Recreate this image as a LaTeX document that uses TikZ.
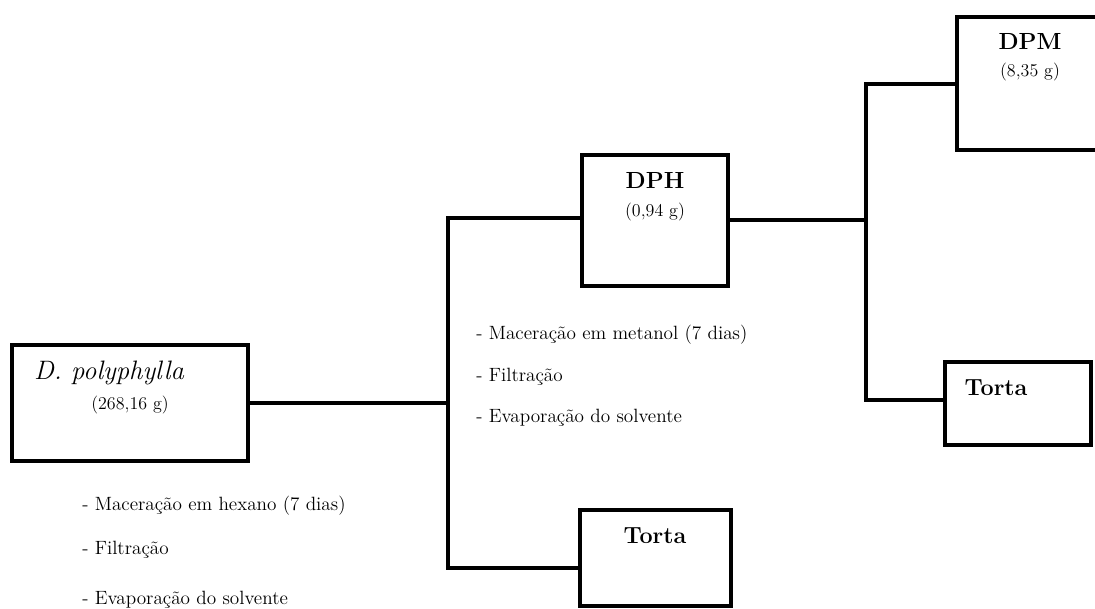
\documentclass[tikz,border=0pt]{standalone}
\usepackage{tikz}
\usetikzlibrary{calc}
\tikzset{
box/.style={draw=black, line width=3.6pt, inner sep=0pt},
link/.style={line width=3pt},
title/.style={font=\fontsize{17.5}{19}\selectfont\bfseries},
mass/.style={font=\fontsize{13.5}{15}\selectfont},
proc/.style={anchor=west, inner sep=0pt, font=\fontsize{14.4}{16}\selectfont}}

\begin{document}
\begin{tikzpicture}[x=0.75pt,y=-0.75pt]
            \useasboundingbox (0,0) rectangle (1095,609);
            \clip (0,0) rectangle (1095,609);

                \node[box, minimum width=177pt, minimum height=87pt] (DP) at (130,403) {};
                \node[box, minimum width=109.5pt, minimum height=98.25pt] (DPH) at (655,220.5) {};
                \node[box, minimum width=113.25pt, minimum height=72pt] (T1) at (655.5,558) {};
                \node[box, minimum width=111pt, minimum height=99.75pt] (DPM) at (1031,83.5) {};
                \node[box, minimum width=109.5pt, minimum height=62.25pt] (T2) at (1018,403.5) {};

                \coordinate (b1) at (448,218);
                \coordinate (b2) at (448,568);
                \coordinate (c1) at (866,84);
                \coordinate (c2) at (866,400);

                \draw[link] (DP.east) -- (DP.east -| b1);
                \draw[link] (b1 -| DPH.west) -- (b1) -- (b2) -- (b2 -| T1.west);
                \draw[link] (DPH.east) -- (DPH.east -| c1);
                \draw[link] (c1 -| DPM.west) -- (c1) -- (c2) -- (c2 -| T2.west);

                \node[font=\fontsize{20}{22}\selectfont\itshape] (DPt) at (109,373) {D. polyphylla};
                \node[mass] (DPm) at (130,405) {(268,16 g)};
                \node[title] (DPHt) at (655,180) {DPH};
                \node[mass] (DPHm) at (655,212) {(0,94 g)};
                \node[title] (DPMt) at (1030,42) {DPM};
                \node[mass] (DPMm) at (1030,72) {(8,35 g)};
                \node[title] (T1t) at (655,536) {Torta};
                \node[title] (T2t) at (996,388) {Torta};

                \node[proc] (h1) at (82,506) {- Maceração em hexano (7 dias)};
                \node[proc] (h2) at (82,550) {- Filtração};
                \node[proc] (h3) at (82,600) {- Evaporação do solvente};
                \node[proc] (m1) at (476,335) {- Maceração em metanol (7 dias)};
                \node[proc] (m2) at (476,377) {- Filtração};
                \node[proc] (m3) at (476,418) {- Evaporação do solvente};

            \end{tikzpicture}
\end{document}
